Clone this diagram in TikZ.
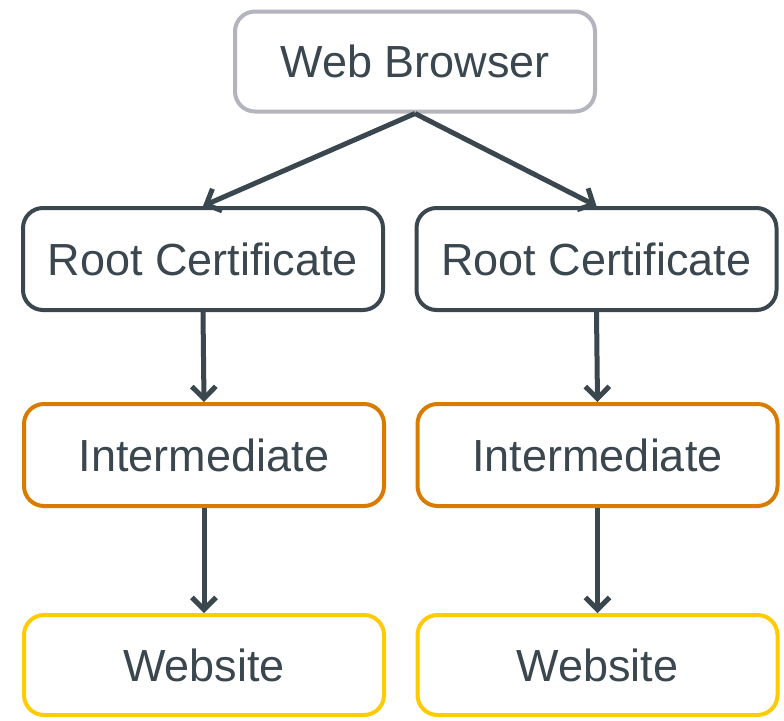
\documentclass[tikz,border=0pt]{standalone}
\usepackage{fontspec}
\setmainfont{Liberation Sans}
\usepackage{xcolor}
\usepackage{tikz}
\usetikzlibrary{arrows.meta}

\definecolor{slate}{HTML}{3B474F}
\definecolor{browsergray}{HTML}{B4B4BE}
\definecolor{interorange}{HTML}{D97B00}
\definecolor{siteyellow}{HTML}{FFCB05}

\begin{document}
\begin{tikzpicture}[x=1pt, y=-1pt,
  box/.style={draw, rounded corners=20pt, line width=4pt, fill=white,
    minimum width=360pt, minimum height=102pt, text=slate,
    font=\fontsize{45}{54}\selectfont},
  link/.style={draw=slate, line width=5pt, -{Straight Barb[length=12pt, width=24pt, line width=5pt]}}]

% Frame
\useasboundingbox (0,0) rectangle (784,720);

% Browser
\node[box, draw=browsergray, minimum height=100pt] (browser) at (415,61.5) {Web Browser};

% Root certificates
\node[box, draw=slate] (rootL) at (203,259) {Root Certificate};
\node[box, draw=slate] (rootR) at (596.5,259) {Root Certificate};

% Intermediates
\node[box, draw=interorange] (interL) at (204,455) {Intermediate};
\node[box, draw=interorange] (interR) at (597.5,455) {Intermediate};

% Websites
\node[box, draw=siteyellow, minimum height=100pt] (siteL) at (204,665) {Website};
\node[box, draw=siteyellow, minimum height=100pt] (siteR) at (597.5,665) {Website};

% Arrows
\draw[link] (browser.south) -- (rootL.north);
\draw[link] (browser.south) -- (rootR.north);
\draw[link] (rootL.south) -- (interL.north);
\draw[link] (rootR.south) -- (interR.north);
\draw[link] (interL.south) -- (siteL.north);
\draw[link] (interR.south) -- (siteR.north);

\end{tikzpicture}
\end{document}
